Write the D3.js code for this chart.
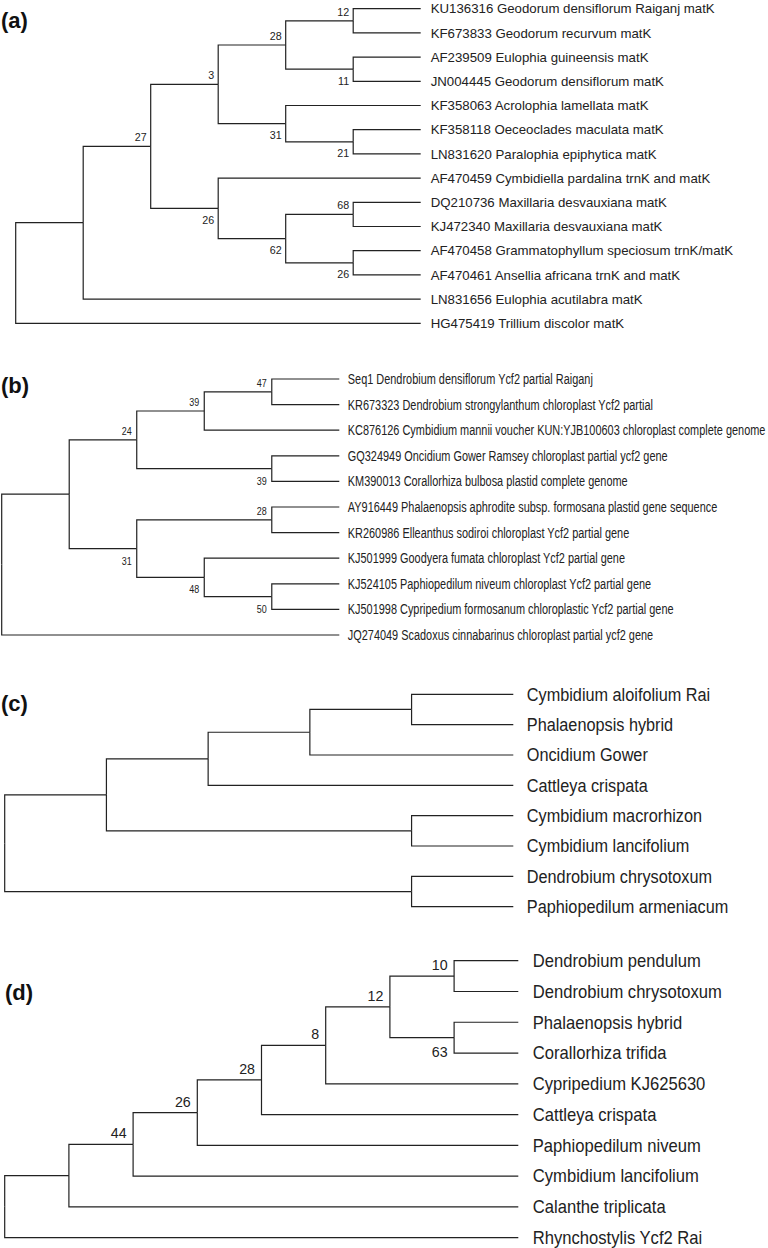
<!DOCTYPE html>
<html><head><meta charset="utf-8">
<script src="https://cdn.jsdelivr.net/npm/d3@7"></script>
<style>html,body{margin:0;padding:0;background:#fff;} svg{display:block;}</style>
</head><body>
<svg id="chart" width="768" height="1248"></svg>
<script>
// ---------- DATA ----------
const panelLabels = ["(a)", "(b)", "(c)", "(d)"];

const leavesA = [
  "KU136316 Geodorum densiflorum Raiganj matK",
  "KF673833 Geodorum recurvum matK",
  "AF239509 Eulophia guineensis matK",
  "JN004445 Geodorum densiflorum matK",
  "KF358063 Acrolophia lamellata matK",
  "KF358118 Oeceoclades maculata matK",
  "LN831620 Paralophia epiphytica matK",
  "AF470459 Cymbidiella pardalina trnK and matK",
  "DQ210736 Maxillaria desvauxiana matK",
  "KJ472340 Maxillaria desvauxiana matK",
  "AF470458 Grammatophyllum speciosum trnK/matK",
  "AF470461 Ansellia africana trnK and matK",
  "LN831656 Eulophia acutilabra matK",
  "HG475419 Trillium discolor matK"
];
// topology with bootstrap values (leaf indices refer to leavesA)
const treeA = "((((((0,1)12,(2,3)11)28,(4,(5,6)21)31)3,(7,((8,9)68,(10,11)26)62)26)27,12),13)";

const leavesB = [
  "Seq1 Dendrobium densiflorum Ycf2 partial Raiganj",
  "KR673323 Dendrobium strongylanthum chloroplast Ycf2 partial",
  "KC876126 Cymbidium mannii voucher KUN:YJB100603 chloroplast complete genome",
  "GQ324949 Oncidium Gower Ramsey chloroplast partial ycf2 gene",
  "KM390013 Corallorhiza bulbosa plastid complete genome",
  "AY916449 Phalaenopsis aphrodite subsp. formosana plastid gene sequence",
  "KR260986 Elleanthus sodiroi chloroplast Ycf2 partial gene",
  "KJ501999 Goodyera fumata chloroplast Ycf2 partial gene",
  "KJ524105 Paphiopedilum niveum chloroplast Ycf2 partial gene",
  "KJ501998 Cypripedium formosanum chloroplastic Ycf2 partial gene",
  "JQ274049 Scadoxus cinnabarinus chloroplast partial ycf2 gene"
];
const treeB = "(((((0,1)47,2)39,(3,4)39)24,((5,6)28,(7,(8,9)50)48)31),10)";

const leavesC = [
  "Cymbidium aloifolium Rai",
  "Phalaenopsis hybrid",
  "Oncidium Gower",
  "Cattleya crispata",
  "Cymbidium macrorhizon",
  "Cymbidium lancifolium",
  "Dendrobium chrysotoxum",
  "Paphiopedilum armeniacum"
];
const treeC = "(((((0,1),2),3),(4,5)),(6,7))";

const leavesD = [
  "Dendrobium pendulum",
  "Dendrobium chrysotoxum",
  "Phalaenopsis hybrid",
  "Corallorhiza trifida",
  "Cypripedium KJ625630",
  "Cattleya crispata",
  "Paphiopedilum niveum",
  "Cymbidium lancifolium",
  "Calanthe triplicata",
  "Rhynchostylis Ycf2 Rai"
];
const treeD = "((((((((0,1)10,(2,3)63)12,4)8,5)28,6)26,7)44,8),9)";

// ---------- LAYOUT ----------
const panels = [
  {label: panelLabels[0], leaves: leavesA, tree: treeA, xRoot: 15.7, xLeaf: 420.7, yFirst: 8.7, yLast: 323.3,
   fs: 13, ref: 10, refW: 302.7, gap: 10, bfs: 10.5, bx: 4, bUp: 5, bDown: 15.5, lx: 1, ly: 28},
  {label: panelLabels[1], leaves: leavesB, tree: treeB, xRoot: 1.7, xLeaf: 339.3, yFirst: 379, yLast: 635,
   fs: 14, ref: 2, refW: 418, gap: 8.5, bfs: 11.5, bx: 5, bUp: 5, bDown: 16, lx: 1, ly: 393},
  {label: panelLabels[2], leaves: leavesC, tree: treeC, xRoot: 4.7, xLeaf: 513.3, yFirst: 694.3, yLast: 906.7,
   fs: 17.5, ref: 7, refW: 201.7, gap: 13.5, bfs: 15, bx: 6, bUp: 6, bDown: 19, lx: 1, ly: 711},
  {label: panelLabels[3], leaves: leavesD, tree: treeD, xRoot: 4.7, xLeaf: 518.3, yFirst: 960.7, yLast: 1237.7,
   fs: 17.5, ref: 1, refW: 189.3, gap: 14.5, bfs: 15, bx: 6.5, bUp: 6, bDown: 19, lx: 5, ly: 1000}
];

const FONT = "'Liberation Sans', Arial, Helvetica, sans-serif";
const INK = "#222";

function parseNewick(s, names) {
  let i = 0;
  function node() {
    const n = {};
    if (s[i] === "(") {
      i++;
      n.children = [node()];
      while (s[i] === ",") { i++; n.children.push(node()); }
      i++; // ')'
      let lab = "";
      while (i < s.length && /[0-9]/.test(s[i])) lab += s[i++];
      n.support = lab;
    } else {
      let lab = "";
      while (i < s.length && /[0-9]/.test(s[i])) lab += s[i++];
      n.name = names[+lab];
    }
    return n;
  }
  return node();
}

const svg = d3.select("#chart");

panels.forEach(p => {
  const g = svg.append("g");
  const root = d3.hierarchy(parseNewick(p.tree, p.leaves));
  d3.cluster().nodeSize([1, 1]).separation(() => 1)(root);
  const lv = root.leaves();
  const y = d3.scaleLinear().domain([lv[0].x, lv[lv.length - 1].x]).range([p.yFirst, p.yLast]);
  const x = d3.scaleLinear().domain([0, root.height]).range([p.xRoot, p.xLeaf]);

  // horizontal condensation factor of the label font
  const tmp = g.append("text").attr("font-family", FONT).attr("font-size", p.fs).text(p.leaves[p.ref]);
  const sx = p.refW / tmp.node().getComputedTextLength();
  tmp.remove();

  g.selectAll("path.link").data(root.links()).join("path")
    .attr("class", "link")
    .attr("fill", "none").attr("stroke", INK).attr("stroke-width", 1.2)
    .attr("d", l => `M${x(l.source.y)},${y(l.source.x)}V${y(l.target.x)}H${x(l.target.y)}`);

  g.selectAll("text.tip").data(lv).join("text")
    .attr("class", "tip")
    .attr("transform", d => `translate(${x(d.y) + p.gap},${y(d.x)}) scale(${sx},1)`)
    .attr("dy", "0.36em")
    .attr("font-family", FONT).attr("font-size", p.fs).attr("fill", INK)
    .text(d => d.data.name);

  const inner = root.descendants().filter(d => d.children && d.parent && d.data.support);
  g.selectAll("text.boot").data(inner).join("text")
    .attr("class", "boot")
    .attr("transform", d => {
      const upper = d === d.parent.children[0];
      return `translate(${x(d.y) - p.bx},${y(d.x) + (upper ? -p.bUp : p.bDown)}) scale(${sx},1)`;
    })
    .attr("text-anchor", "end")
    .attr("font-family", FONT).attr("font-size", p.bfs).attr("fill", INK)
    .text(d => d.data.support);

  g.append("text")
    .attr("x", p.lx).attr("y", p.ly)
    .attr("font-family", FONT).attr("font-size", 22).attr("font-weight", "bold").attr("fill", "#111")
    .text(p.label);
});
</script>
</body></html>
